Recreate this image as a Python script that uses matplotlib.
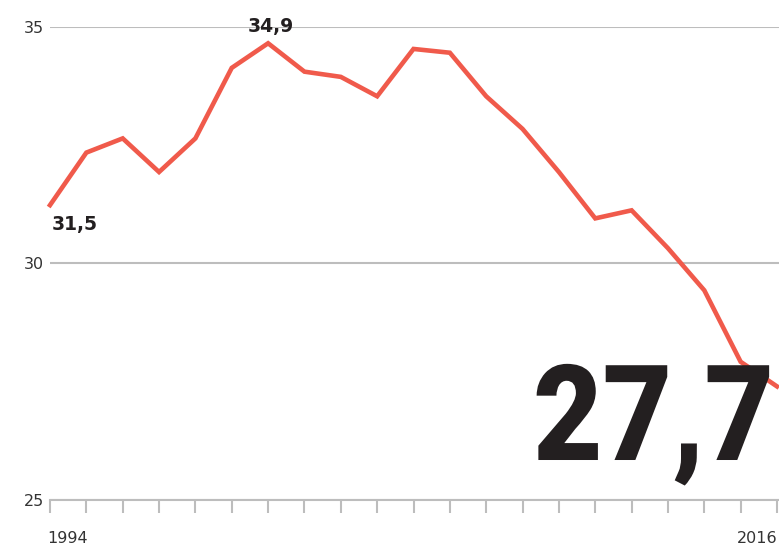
import matplotlib
matplotlib.use("Agg")
import matplotlib.pyplot as plt
from matplotlib import patheffects
from matplotlib.transforms import Affine2D, ScaledTranslation

# Data (21 observations, 1994 -> 2016)
x_labels = ["1994"] + [""] * 19 + ["2016"]
values = [31.23, 32.34, 32.64, 31.93, 32.64, 34.13, 34.65, 34.05, 33.94, 33.53,
          34.53, 34.45, 33.53, 32.84, 31.93, 30.95, 31.12, 30.32, 29.43, 27.92, 27.40]
y_ticks = [25, 30, 35]
y_tick_labels = ["25", "30", "35"]
annot_start = "31,5"
annot_peak = "34,9"
annot_end = "27,7"


class HScale(patheffects.AbstractPathEffect):
    """Horizontally condense drawn text around a display x position."""
    def __init__(self, sx, x0):
        super().__init__()
        self.sx = sx
        self.x0 = x0

    def draw_path(self, renderer, gc, tpath, affine, rgbFace=None):
        t = affine + Affine2D().translate(-self.x0, 0).scale(self.sx, 1).translate(self.x0, 0)
        renderer.draw_path(gc, tpath, t, rgbFace)


W, H = 779, 549
fig = plt.figure(figsize=(W / 100, H / 100), dpi=100)
left_px, right_px, top_px, bottom_px = 50, 779, 26.7, 500
ax = fig.add_axes([left_px / W, (H - bottom_px) / H,
                   (right_px - left_px) / W, (bottom_px - top_px) / H])

xs = list(range(len(values)))
step = (777 - 50) / (len(values) - 1)
ax.set_xlim(0, (right_px - left_px) / step)
ax.set_ylim(25, 35)

grey = "#bdbdbd"
for s in ax.spines.values():
    s.set_visible(False)

ax.set_yticks(y_ticks)
ax.set_yticklabels(y_tick_labels)
ax.grid(axis="y", color=grey, linewidth=1.5, zorder=1)
ax.tick_params(axis="y", length=0, pad=4.5, labelsize=11.5, labelcolor="#333333")

ax.set_xticks(xs)
ax.set_xticklabels(x_labels)
ax.tick_params(axis="x", direction="out", length=9.4, width=1.5, color=grey,
               pad=13, labelsize=11.5, labelcolor="#333333")
labs = ax.get_xticklabels()
labs[0].set_ha("left")
labs[0].set_transform(labs[0].get_transform()
                      + ScaledTranslation(-3 / 100, 0, fig.dpi_scale_trans))
labs[-1].set_ha("right")
for lab in labs:
    lab.set_va("top")

# Bottom baseline drawn over ticks
ax.axhline(25, color=grey, linewidth=1.5, zorder=2, clip_on=False)

ax.plot(xs, values, color="#f05a4b", linewidth=3.3, zorder=3, clip_on=False,
        solid_joinstyle="miter")

# Big end value (drawn above the line)
ax_anchor = (0.9931, 0.0845)
x0 = ax.transAxes.transform(ax_anchor)[0]
ax.text(ax_anchor[0], ax_anchor[1], annot_end, transform=ax.transAxes,
        ha="right", va="baseline", fontsize=96, fontweight=900, family="Roboto",
        color="#231f20", zorder=4,
        path_effects=[HScale(0.9, x0)])

ax.annotate(annot_start, (xs[0], values[0]), xytext=(25, -19),
            textcoords="offset pixels", ha="center", va="center",
            fontsize=13.5, fontweight="bold", color="#231f20")
ax.annotate(annot_peak, (xs[6], values[6]), xytext=(3, 16.5),
            textcoords="offset pixels", ha="center", va="center",
            fontsize=13.5, fontweight="bold", color="#231f20")

fig.savefig("out.png", dpi=100, facecolor="white")
